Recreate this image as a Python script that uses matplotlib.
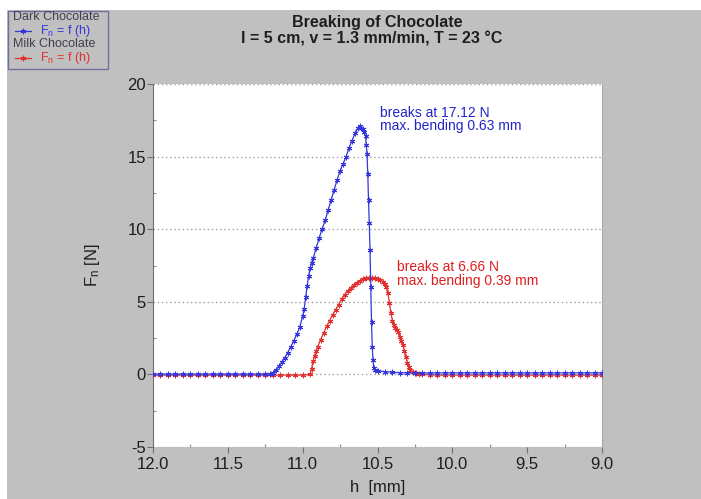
import matplotlib
matplotlib.use("Agg")
import matplotlib.pyplot as plt
from matplotlib.lines import Line2D
from matplotlib.patches import Rectangle
from matplotlib.ticker import MultipleLocator

plt.rcParams['font.family'] = ['Liberation Sans', 'DejaVu Sans']
plt.rcParams['mathtext.fontset'] = 'custom'
plt.rcParams['mathtext.rm'] = 'Liberation Sans'
plt.rcParams['mathtext.it'] = 'Liberation Sans'
plt.rcParams['axes.unicode_minus'] = False

# dark chocolate, h [mm] vs Fn [N]
h_dark = [12.00, 11.95, 11.90, 11.85, 11.80, 11.75, 11.70, 11.65, 11.60, 11.55,
          11.50, 11.45, 11.40, 11.35, 11.30, 11.25, 11.22, 11.20, 11.18, 11.16,
          11.14, 11.12, 11.10, 11.08, 11.06, 11.04, 11.02, 11.00, 10.99, 10.98,
          10.97, 10.96, 10.95, 10.94, 10.93, 10.91, 10.89, 10.87, 10.85, 10.83,
          10.81, 10.79, 10.77, 10.75, 10.73, 10.71, 10.69, 10.67, 10.65, 10.63,
          10.62, 10.61, 10.60, 10.59, 10.58, 10.575, 10.57, 10.565, 10.56, 10.555,
          10.55, 10.545, 10.54, 10.535, 10.53, 10.525, 10.52, 10.50, 10.45, 10.40,
          10.35, 10.30, 10.25, 10.20, 10.15, 10.10, 10.05, 10.00, 9.95, 9.90,
          9.85, 9.80, 9.75, 9.70, 9.65, 9.60, 9.55, 9.50, 9.45, 9.40,
          9.35, 9.30, 9.25, 9.20, 9.15, 9.10, 9.05, 9.00]
f_dark = [0.02, 0.02, 0.02, 0.02, 0.02, 0.02, 0.02, 0.02, 0.02, 0.02,
          0.02, 0.02, 0.02, 0.02, 0.02, 0.02, 0.05, 0.12, 0.3, 0.55,
          0.85, 1.15, 1.5, 1.9, 2.3, 2.75, 3.25, 4.0, 4.5, 5.3,
          6.1, 6.8, 7.3, 7.7, 8.0, 8.7, 9.4, 10.0, 10.6, 11.3,
          12.0, 12.7, 13.4, 14.0, 14.5, 15.0, 15.6, 16.1, 16.6, 17.0,
          17.12, 17.0, 16.9, 16.7, 16.4, 15.8, 15.2, 13.8, 12.0, 10.4,
          8.6, 6.0, 3.6, 1.9, 1.0, 0.45, 0.3, 0.25, 0.18, 0.15,
          0.12, 0.1, 0.1, 0.1, 0.1, 0.1, 0.1, 0.1, 0.1, 0.1,
          0.1, 0.1, 0.1, 0.1, 0.1, 0.1, 0.1, 0.1, 0.1, 0.1,
          0.1, 0.1, 0.1, 0.1, 0.1, 0.1, 0.1, 0.1]

# milk chocolate
h_milk = [12.00, 11.95, 11.90, 11.85, 11.80, 11.75, 11.70, 11.65, 11.60, 11.55,
          11.50, 11.45, 11.40, 11.35, 11.30, 11.25, 11.20, 11.15, 11.10, 11.05,
          11.00, 10.95, 10.94, 10.93, 10.92, 10.91, 10.90, 10.88, 10.86, 10.84,
          10.82, 10.80, 10.78, 10.76, 10.74, 10.72, 10.70, 10.68, 10.66, 10.64,
          10.62, 10.60, 10.58, 10.56, 10.54, 10.52, 10.50, 10.48, 10.46, 10.45,
          10.44, 10.43, 10.42, 10.41, 10.40, 10.39, 10.38, 10.37, 10.36, 10.35,
          10.34, 10.33, 10.32, 10.31, 10.30, 10.29, 10.28, 10.26, 10.24, 10.22,
          10.20, 10.15, 10.10, 10.05, 10.00, 9.95, 9.90, 9.85, 9.80, 9.75,
          9.70, 9.65, 9.60, 9.55, 9.50, 9.45, 9.40, 9.35, 9.30, 9.25,
          9.20, 9.15, 9.10, 9.05, 9.00]
f_milk = [-0.05, -0.05, -0.05, -0.05, -0.05, -0.05, -0.05, -0.05, -0.05, -0.05,
          -0.05, -0.05, -0.05, -0.05, -0.05, -0.05, -0.05, -0.05, -0.05, -0.05,
          -0.05, 0.0, 0.4, 0.95, 1.3, 1.6, 1.9, 2.4, 2.85, 3.3,
          3.7, 4.1, 4.45, 4.8, 5.2, 5.5, 5.75, 5.95, 6.15, 6.3,
          6.45, 6.55, 6.62, 6.66, 6.66, 6.64, 6.6, 6.5, 6.35, 6.2,
          6.0, 5.6, 4.9, 4.2, 3.7, 3.4, 3.2, 3.05, 2.9, 2.6,
          2.3, 2.0, 1.6, 1.2, 0.8, 0.5, 0.3, 0.15, 0.08, 0.03,
          0.0, -0.03, -0.05, -0.05, -0.05, -0.05, -0.05, -0.05, -0.05, -0.05,
          -0.05, -0.05, -0.05, -0.05, -0.05, -0.05, -0.05, -0.05, -0.05, -0.05,
          -0.05, -0.05, -0.05, -0.05, -0.05]

y_ticks = [-5, 0, 5, 10, 15, 20]
x_ticks = [12.0, 11.5, 11.0, 10.5, 10.0, 9.5, 9.0]

W, H = 701, 499
BLUE = '#3535dc'
RED = '#e23030'
GRAY = '#c0c0c0'
ast = (6, 2, 0)


def px(x, y):
    return x / W, 1 - y / H


fig = plt.figure(figsize=(W / 100, H / 100), dpi=100, facecolor='white')
fig.patches.append(Rectangle((7 / W, 0), 1, 1 - 10 / H, transform=fig.transFigure,
                             facecolor=GRAY, edgecolor='none', zorder=-5))

ax = fig.add_axes([153 / W, 1 - 447 / H, (602 - 153) / W, (447 - 84) / H])
ax.set_facecolor('white')

ax.plot(h_milk, f_milk, color=RED, lw=0.9, marker=ast, ms=4, mew=0.7, zorder=3)
ax.plot(h_dark, f_dark, color=BLUE, lw=0.9, marker=ast, ms=4, mew=0.7, zorder=4)

ax.set_xlim(12.0, 9.0)
ax.set_ylim(-5, 20)
ax.set_xticks(x_ticks)
ax.set_xticklabels(['%.1f' % v for v in x_ticks])
ax.set_yticks(y_ticks)
ax.xaxis.set_minor_locator(MultipleLocator(0.25))
ax.yaxis.set_minor_locator(MultipleLocator(2.5))
ax.tick_params(which='major', direction='out', length=4, width=0.8, color='#707070',
               labelsize=12, labelcolor='#1e1e1e', pad=1)
ax.tick_params(axis='x', which='major', pad=3)
ax.tick_params(which='minor', direction='in', length=2, width=0.8, color='#909090')

ax.grid(axis='y', color='#a0a0a0', lw=1, ls=(0, (1, 2)))
ax.spines['top'].set_visible(False)
ax.spines['bottom'].set_visible(False)
ax.spines['left'].set_color('#707070')
ax.spines['right'].set_color('#a8a8a8')

ax.set_xlabel('h  [mm]', fontsize=12, color='#1e1e1e', labelpad=6)
ax.set_ylabel('F$_\\mathrm{n}$ [N]', fontsize=12, color='#1e1e1e', labelpad=18)

ax.text(10.484, 18.5, 'breaks at 17.12 N\nmax. bending 0.63 mm', color='#2424c8',
        fontsize=10, va='top', ha='left', linespacing=0.95)
ax.text(10.37, 7.85, 'breaks at 6.66 N\nmax. bending 0.39 mm', color='#dd2020',
        fontsize=10, va='top', ha='left', linespacing=0.95)

# titles
fig.text(*px(377, 22), 'Breaking of Chocolate', ha='center', va='center',
         fontsize=11.5, fontweight='bold', color='#1e1e1e')
fig.text(*px(372, 39), 'l = 5 cm, v = 1.3 mm/min, T = 23 °C', ha='center', va='center',
         fontsize=11.5, fontweight='bold', color='#1e1e1e')

# legend box
fig.patches.append(Rectangle(px(8, 69), 100 / W, 58 / H, transform=fig.transFigure,
                             facecolor='none', edgecolor='#7070a0', lw=1, zorder=2))
fig.text(*px(13, 17), 'Dark Chocolate', ha='left', va='center', fontsize=9, color='#404050')
fig.lines.append(Line2D([15 / W, 31 / W], [1 - 31 / H] * 2, transform=fig.transFigure,
                        color=BLUE, lw=0.9))
fig.lines.append(Line2D([23 / W], [1 - 31 / H], transform=fig.transFigure,
                        color=BLUE, marker=ast, ms=4, mew=0.7))
fig.text(*px(40, 31), 'F$_\\mathrm{n}$ = f (h)', ha='left', va='center', fontsize=9, color=BLUE)
fig.text(*px(13, 44), 'Milk Chocolate', ha='left', va='center', fontsize=9, color='#404050')
fig.lines.append(Line2D([15 / W, 31 / W], [1 - 58 / H] * 2, transform=fig.transFigure,
                        color=RED, lw=0.9))
fig.lines.append(Line2D([23 / W], [1 - 58 / H], transform=fig.transFigure,
                        color=RED, marker=ast, ms=4, mew=0.7))
fig.text(*px(40, 58), 'F$_\\mathrm{n}$ = f (h)', ha='left', va='center', fontsize=9, color=RED)

fig.savefig('out.png', dpi=100)
